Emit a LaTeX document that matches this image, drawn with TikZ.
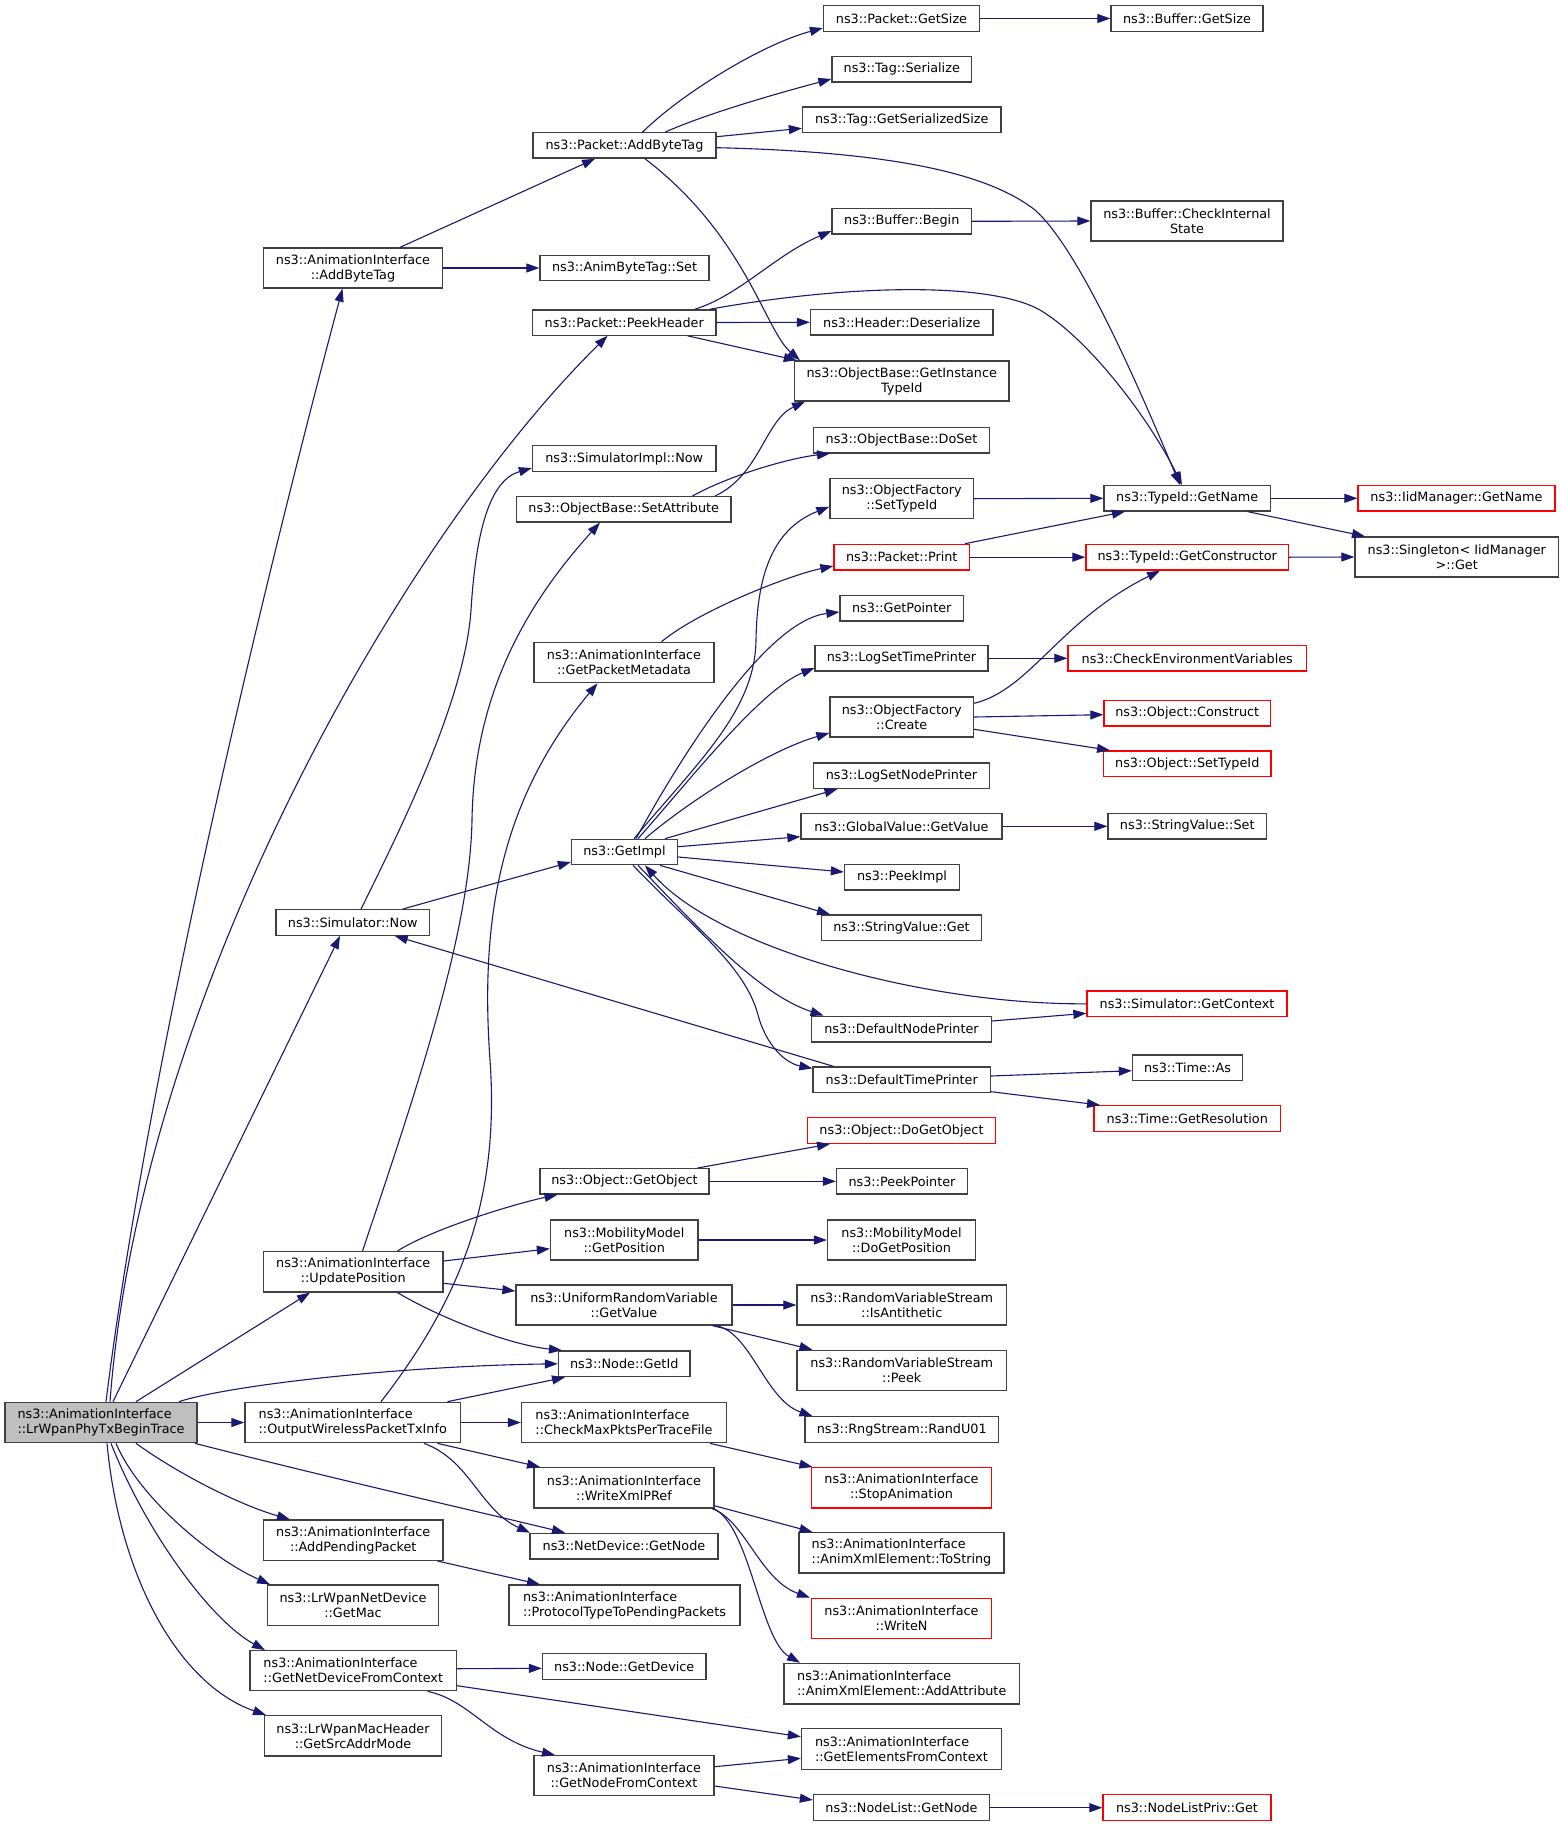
\documentclass[tikz,border=0pt]{standalone}
\usepackage{fontspec}
\setmainfont{DejaVu Sans}
\usetikzlibrary{arrows.meta}
\definecolor{edgecol}{HTML}{191970}
\definecolor{boxcol}{HTML}{404040}
\definecolor{mainfill}{HTML}{BFBFBF}
\definecolor{redcol}{HTML}{FF0000}
\newcommand\nodefont{\fontsize{12.8}{15}\selectfont}
\tikzset{
  box/.style={draw=boxcol, line width=1.3pt, fill=white, inner sep=0pt, font=\nodefont, align=center},
  redbox/.style={box, draw=redcol},
  e/.style={draw=edgecol, line width=1.1pt, -{Triangle[length=13pt,width=9pt]}},
}
\begin{document}
\begin{tikzpicture}[x=1pt,y=-1pt]
\useasboundingbox (0,0) rectangle (1560,1827);
\fill[white] (0,0) rectangle (1560,1827);
% column 1
\node[box, fill=mainfill, align=left, minimum width=192pt, minimum height=40.4pt] (T) at (101,1422.5) {ns3::AnimationInterface\\::LrWpanPhyTxBeginTrace};
% column 2
\node[box, minimum width=179.5pt, minimum height=40pt] (abt) at (353,268) {ns3::AnimationInterface\\::AddByteTag};
\node[box, minimum width=153.5pt, minimum height=25.5pt] (sn) at (352.75,922.5) {ns3::Simulator::Now};
\node[box, minimum width=179.5pt, minimum height=40.3pt] (up) at (353.25,1271.8) {ns3::AnimationInterface\\::UpdatePosition};
\node[box, align=left, minimum width=215.5pt, minimum height=40.4pt] (ow) at (352.75,1422.5) {ns3::AnimationInterface\\::OutputWirelessPacketTxInfo};
\node[box, minimum width=179.5pt, minimum height=40.3pt] (app) at (353.25,1540.2) {ns3::AnimationInterface\\::AddPendingPacket};
\node[box, minimum width=171pt, minimum height=40.3pt] (mac) at (353,1605.2) {ns3::LrWpanNetDevice\\::GetMac};
\node[box, align=left, minimum width=206.5pt, minimum height=40pt] (gnd) at (353.25,1670.7) {ns3::AnimationInterface\\::GetNetDeviceFromContext};
\node[box, minimum width=177pt, minimum height=40.3pt] (src) at (353,1735.8) {ns3::LrWpanMacHeader\\::GetSrcAddrMode};
% column 3
\node[box, minimum width=183pt, minimum height=25.3pt] (pab) at (624.5,145.5) {ns3::Packet::AddByteTag};
\node[box, minimum width=169pt, minimum height=25.6pt] (abs) at (624.5,268) {ns3::AnimByteTag::Set};
\node[box, minimum width=183.5pt, minimum height=25.3pt] (pph) at (624.25,322.5) {ns3::Packet::PeekHeader};
\node[box, minimum width=183.5pt, minimum height=25.6pt] (sin) at (624.25,458.5) {ns3::SimulatorImpl::Now};
\node[box, minimum width=214.5pt, minimum height=25.3pt] (osa) at (623.75,509.3) {ns3::ObjectBase::SetAttribute};
\node[box, minimum width=180pt, minimum height=40.3pt] (gpm) at (624,662.5) {ns3::AnimationInterface\\::GetPacketMetadata};
\node[box, minimum width=106pt, minimum height=25.4pt] (gi) at (624.5,852) {ns3::GetImpl};
\node[box, minimum width=169pt, minimum height=25.3pt] (go) at (624.5,1181.3) {ns3::Object::GetObject};
\node[box, minimum width=147.5pt, minimum height=40pt] (mgp) at (624.25,1240) {ns3::MobilityModel\\::GetPosition};
\node[box, minimum width=216pt, minimum height=40pt] (urv) at (624,1305) {ns3::UniformRandomVariable\\::GetValue};
\node[box, minimum width=131.5pt, minimum height=25.7pt] (gid) at (624.25,1363.8) {ns3::Node::GetId};
\node[box, align=left, minimum width=205pt, minimum height=40.4pt] (cmp) at (624,1422.5) {ns3::AnimationInterface\\::CheckMaxPktsPerTraceFile};
\node[box, minimum width=180pt, minimum height=40.3pt] (wxp) at (624,1487.8) {ns3::AnimationInterface\\::WriteXmlPRef};
\node[box, minimum width=188pt, minimum height=25.7pt] (ndg) at (624,1546.2) {ns3::NetDevice::GetNode};
\node[box, align=left, minimum width=231pt, minimum height=40.3pt] (ptp) at (624.5,1605.2) {ns3::AnimationInterface\\::ProtocolTypeToPendingPackets};
\node[box, minimum width=163.5pt, minimum height=25.6pt] (gdev) at (624.25,1666.5) {ns3::Node::GetDevice};
\node[box, minimum width=180pt, minimum height=40pt] (gnc) at (624,1775.7) {ns3::AnimationInterface\\::GetNodeFromContext};
% column 4
\node[box, minimum width=156pt, minimum height=25.6pt] (pgs) at (901.5,18.5) {ns3::Packet::GetSize};
\node[box, minimum width=139.5pt, minimum height=25.3pt] (tser) at (901.75,69.3) {ns3::Tag::Serialize};
\node[box, minimum width=198.5pt, minimum height=25.7pt] (tgss) at (901.75,120) {ns3::Tag::GetSerializedSize};
\node[box, minimum width=139.5pt, minimum height=25.3pt] (bb) at (901.75,221.3) {ns3::Buffer::Begin};
\node[box, minimum width=182.5pt, minimum height=25.3pt] (hd) at (901.75,322.3) {ns3::Header::Deserialize};
\node[box, minimum width=214.5pt, minimum height=40pt] (giti) at (901.75,381) {ns3::ObjectBase::GetInstance\\TypeId};
\node[box, minimum width=176pt, minimum height=25.7pt] (ds) at (901.5,440) {ns3::ObjectBase::DoSet};
\node[box, minimum width=143.5pt, minimum height=40pt] (ofs) at (901.75,498.7) {ns3::ObjectFactory\\::SetTypeId};
\node[redbox, minimum width=135.5pt, minimum height=25.7pt] (pp) at (901.75,557.2) {ns3::Packet::Print};
\node[box, minimum width=123.5pt, minimum height=25.7pt] (gp) at (901.75,608) {ns3::GetPointer};
\node[box, minimum width=173pt, minimum height=25.3pt] (lstp) at (901.5,658.3) {ns3::LogSetTimePrinter};
\node[box, minimum width=143.5pt, minimum height=40pt] (ofc) at (901.75,717) {ns3::ObjectFactory\\::Create};
\node[box, minimum width=176pt, minimum height=25.3pt] (lsnp) at (901.5,775.7) {ns3::LogSetNodePrinter};
\node[box, minimum width=201pt, minimum height=25.3pt] (ggv) at (901.5,826.3) {ns3::GlobalValue::GetValue};
\node[box, minimum width=115pt, minimum height=25.7pt] (pi) at (902,877) {ns3::PeekImpl};
\node[box, minimum width=160pt, minimum height=25.7pt] (svg) at (901.5,927.8) {ns3::StringValue::Get};
\node[box, minimum width=180pt, minimum height=25.7pt] (dnp) at (901.5,1029) {ns3::DefaultNodePrinter};
\node[box, minimum width=177.5pt, minimum height=25.3pt] (dtp) at (901.75,1079.7) {ns3::DefaultTimePrinter};
\node[redbox, minimum width=188pt, minimum height=25.6pt] (dgo) at (901.5,1130.5) {ns3::Object::DoGetObject};
\node[box, minimum width=131pt, minimum height=25.3pt] (ppt) at (902,1181.3) {ns3::PeekPointer};
\node[box, minimum width=148pt, minimum height=40pt] (dgp) at (901.5,1240) {ns3::MobilityModel\\::DoGetPosition};
\node[box, minimum width=209.5pt, minimum height=40pt] (anti) at (901.75,1305) {ns3::RandomVariableStream\\::IsAntithetic};
\node[box, minimum width=209.5pt, minimum height=40.4pt] (peek) at (901.75,1370.5) {ns3::RandomVariableStream\\::Peek};
\node[box, minimum width=193.5pt, minimum height=25.6pt] (rng) at (901.75,1429.5) {ns3::RngStream::RandU01};
\node[redbox, minimum width=180pt, minimum height=40.3pt] (stop) at (901.5,1487.8) {ns3::AnimationInterface\\::StopAnimation};
\node[box, align=left, minimum width=205pt, minimum height=40.3pt] (tos) at (901.5,1552.8) {ns3::AnimationInterface\\::AnimXmlElement::ToString};
\node[redbox, minimum width=180pt, minimum height=40.4pt] (wn) at (901.5,1618.5) {ns3::AnimationInterface\\::WriteN};
\node[box, align=left, minimum width=235.5pt, minimum height=40.7pt] (aa) at (901.75,1683.7) {ns3::AnimationInterface\\::AnimXmlElement::AddAttribute};
\node[box, align=left, minimum width=200pt, minimum height=40.6pt] (gec) at (901.5,1749) {ns3::AnimationInterface\\::GetElementsFromContext};
\node[box, minimum width=176pt, minimum height=26pt] (nlg) at (901.5,1807.7) {ns3::NodeList::GetNode};
% column 5
\node[box, minimum width=152pt, minimum height=25.6pt] (bgs) at (1187,18.5) {ns3::Buffer::GetSize};
\node[box, minimum width=192pt, minimum height=40pt] (bcis) at (1187,221) {ns3::Buffer::CheckInternal\\State};
\node[box, minimum width=166.5pt, minimum height=25.3pt] (tgn) at (1187.25,498.3) {ns3::TypeId::GetName};
\node[redbox, minimum width=202.5pt, minimum height=25.7pt] (tgc) at (1187.25,557.2) {ns3::TypeId::GetConstructor};
\node[redbox, minimum width=238.5pt, minimum height=25.3pt] (cev) at (1187.25,658.3) {ns3::CheckEnvironmentVariables};
\node[redbox, minimum width=166.5pt, minimum height=25.3pt] (oc) at (1187.25,713.3) {ns3::Object::Construct};
\node[redbox, minimum width=167.5pt, minimum height=25.7pt] (ost) at (1187.25,763.8) {ns3::Object::SetTypeId};
\node[box, minimum width=158.5pt, minimum height=25.3pt] (ssv) at (1187.25,826.3) {ns3::StringValue::Set};
\node[redbox, minimum width=200pt, minimum height=25.7pt] (gctx) at (1187,1003.8) {ns3::Simulator::GetContext};
\node[box, minimum width=110pt, minimum height=25.7pt] (tas) at (1187.5,1067.8) {ns3::Time::As};
\node[redbox, minimum width=186.5pt, minimum height=25.6pt] (tgr) at (1187.25,1118.5) {ns3::Time::GetResolution};
\node[redbox, minimum width=168pt, minimum height=26pt] (nlpg) at (1187,1807.7) {ns3::NodeListPriv::Get};
% column 6
\node[redbox, minimum width=197pt, minimum height=25.3pt] (iid) at (1456.5,498.3) {ns3::IidManager::GetName};
\node[box, minimum width=203.5pt, minimum height=40pt] (sing) at (1456.75,557) {ns3::Singleton< IidManager\\>::Get};
% edges
\draw[e] ([xshift=5pt]T.north) .. controls (150,1050) and (270,560) .. ([xshift=-10.5pt]abt.south);
\draw[e] ([xshift=9pt]T.north) .. controls (140,1000) and (400,540) .. ([xshift=-16.75pt]pph.south);
\draw[e] ([xshift=12pt]T.north) -- ([xshift=-12.75pt]sn.south);
\draw[e] ([xshift=35pt]T.north) -- ([xshift=-43.25pt]up.south);
\draw[e] ([xshift=78pt]T.north) .. controls (230,1385) and (400,1366) .. (gid.west);
\draw[e] (T.east) -- (ow.west);
\draw[e] ([xshift=94pt]T.south) .. controls (330,1478) and (480,1512) .. ([xshift=-59pt]ndg.north);
\draw[e] ([xshift=35pt]T.south) .. controls (180,1475) and (240,1505) .. ([xshift=-63.25pt]app.north);
\draw[e] ([xshift=15pt]T.south) .. controls (140,1500) and (215,1560) .. ([xshift=-83pt]mac.north);
\draw[e] ([xshift=10pt]T.south) .. controls (145,1530) and (210,1620) .. ([xshift=-88.25pt]gnd.north);
\draw[e] ([xshift=6pt]T.south) .. controls (120,1580) and (180,1685) .. ([xshift=-87pt]src.north);
\draw[e] ([xshift=47pt]abt.north) -- ([xshift=-29.5pt]pab.south);
\draw[e] (abt.east) -- (abs.west);
\draw[e] ([xshift=18pt]pab.north) .. controls (680,95) and (760,45) .. ([yshift=-9.5pt]pgs.west);
\draw[e] ([xshift=40.5pt]pab.north) .. controls (710,112) and (790,90) .. ([yshift=-9.7pt]tser.west);
\draw[e] ([yshift=8.8pt]pab.east) -- ([yshift=-8.3pt]tgss.west);
\draw[e] ([yshift=-2.2pt]pab.east) .. controls (900,152) and (990,175) .. (1035,210) .. controls (1080,250) and (1140,390) .. ([xshift=-7.25pt]tgn.north);
\draw[e] ([xshift=20.5pt]pab.south) .. controls (745,235) and (765,330) .. ([xshift=-101.75pt]giti.north);
\draw[e] ([xshift=70.75pt]pph.north) .. controls (740,295) and (775,255) .. ([yshift=-9.7pt]bb.west);
\draw[e] ([xshift=85.75pt]pph.north) .. controls (850,284) and (990,282) .. (1040,310) .. controls (1090,340) and (1150,420) .. ([xshift=-5.25pt]tgn.north);
\draw[e] (pph.east) -- (hd.west);
\draw[e] ([xshift=63.25pt]pph.south) -- ([xshift=-105pt]giti.north);
\draw[e] ([xshift=91.25pt]osa.north) .. controls (760,475) and (765,420) .. ([xshift=-96.75pt]giti.south);
\draw[e] ([xshift=68.75pt]osa.north) .. controls (730,475) and (790,458) .. ([xshift=-71.5pt]ds.south);
\draw[e] ([xshift=37.5pt]gpm.north) .. controls (700,610) and (790,575) .. ([yshift=-8.8pt]pp.west);
\draw[e] ([xshift=8.25pt]sn.north) .. controls (400,830) and (465,700) .. (471,610) .. controls (476,530) and (490,480) .. ([yshift=-9.5pt]sin.west);
\draw[e] ([xshift=49.75pt]sn.north) -- ([yshift=-10pt]gi.west);
\draw[e] ([xshift=9.5pt]gi.north) .. controls (700,760) and (755,710) .. (756,640) .. controls (757,580) and (770,530) .. ([yshift=-8pt]ofs.west);
\draw[e] ([xshift=11.5pt]gi.north) .. controls (690,740) and (770,620) .. ([yshift=-4pt]gp.west);
\draw[e] ([xshift=13.5pt]gi.north) .. controls (690,780) and (760,690) .. ([yshift=-9.7pt]lstp.west);
\draw[e] ([xshift=20.5pt]gi.north) .. controls (690,800) and (770,750) .. ([yshift=-16pt]ofc.west);
\draw[e] ([xshift=40.5pt]gi.north) -- ([xshift=-64pt]lsnp.south);
\draw[e] ([yshift=5.3pt]gi.east) -- ([yshift=-10.4pt]ggv.west);
\draw[e] ([yshift=-5pt]gi.east) -- ([yshift=5pt]pi.west);
\draw[e] ([xshift=35.5pt]gi.south) -- ([xshift=-71.5pt]svg.north);
\draw[e] ([xshift=13.5pt]gi.south) .. controls (700,930) and (760,995) .. ([xshift=-78pt]dnp.north);
\draw[e] ([xshift=8.5pt]gi.south) .. controls (690,925) and (745,965) .. (758,1015) .. controls (766,1045) and (785,1063) .. ([yshift=-2pt]dtp.north west);
\draw[e] (gctx.west) .. controls (930,1005) and (720,950) .. ([xshift=20.5pt]gi.south);
\draw[e] ([xshift=-68pt]dtp.north) -- ([xshift=42pt]sn.south);
\draw[e] (ofs.east) -- (tgn.west);
\draw[e] ([xshift=63.25pt]pp.north) -- ([xshift=-62.25pt]tgn.south);
\draw[e] (pp.east) -- (tgc.west);
\draw[e] (tgn.east) -- (iid.west);
\draw[e] ([xshift=60.25pt]tgn.south) -- ([xshift=-91.75pt]sing.north);
\draw[e] (tgc.east) -- (sing.west);
\draw[e] ([yshift=13.7pt]ofc.east) .. controls (1030,690) and (1060,620) .. ([xshift=-27.25pt]tgc.south);
\draw[e] (lstp.east) -- (cev.west);
\draw[e] (ofc.east) -- ([yshift=-1.4pt]oc.west);
\draw[e] ([yshift=-12.3pt]ofc.east) -- ([xshift=-77.25pt]ost.north);
\draw[e] (ggv.east) -- (ssv.west);
\draw[e] ([yshift=8pt]dnp.east) -- ([yshift=-9.5pt]gctx.west);
\draw[e] ([yshift=3.7pt]dtp.east) -- ([yshift=-2.9pt]tas.west);
\draw[e] ([yshift=-12pt]dtp.east) -- ([xshift=-87.25pt]tgr.north);
\draw[e] ([xshift=44.25pt]up.north) .. controls (430,1230) and (510,1205) .. ([xshift=-67pt]go.south);
\draw[e] ([yshift=10.8pt]up.east) -- ([yshift=-8.7pt]mgp.west);
\draw[e] ([yshift=-11.5pt]up.east) -- ([yshift=14pt]urv.west);
\draw[e] ([xshift=44.25pt]up.south) .. controls (440,1318) and (510,1345) .. ([xshift=-62.25pt]gid.north);
\draw[e] ([xshift=9.25pt]up.north) .. controls (420,1080) and (470,930) .. (472,820) .. controls (474,690) and (530,600) .. ([xshift=-23.75pt]osa.south);
\draw[e] ([xshift=28.25pt]ow.north) .. controls (460,1300) and (500,1200) .. (490,1060) .. controls (480,920) and (500,800) .. ([xshift=-26.5pt]gpm.south);
\draw[e] ([xshift=94.75pt]ow.north) -- ([xshift=-59.25pt]gid.south);
\draw[e] (ow.east) -- (cmp.west);
\draw[e] ([xshift=84.75pt]ow.south) -- ([xshift=-84pt]wxp.north);
\draw[e] ([xshift=71.25pt]ow.south) .. controls (470,1460) and (480,1510) .. ([xshift=-94pt]ndg.north);
\draw[e] ([xshift=86pt]cmp.south) -- ([xshift=-89pt]stop.north);
\draw[e] ([yshift=-18pt]wxp.east) -- ([xshift=-89pt]tos.north);
\draw[e] ([xshift=88pt]wxp.south) .. controls (745,1520) and (760,1580) .. ([xshift=-91.5pt]wn.north);
\draw[e] ([xshift=89.5pt]wxp.south) .. controls (750,1525) and (760,1640) .. ([xshift=-101.75pt]aa.north);
\draw[e] ([xshift=84.25pt]app.south) -- ([xshift=-84.5pt]ptp.north);
\draw[e] ([yshift=2pt]gnd.east) -- ([yshift=-1.8pt]gdev.west);
\draw[e] ([yshift=-15pt]gnd.east) -- ([yshift=12.3pt]gec.west);
\draw[e] ([xshift=74.25pt]gnd.south) .. controls (470,1700) and (490,1740) .. ([xshift=-69pt]gnc.north);
\draw[e] ([yshift=9pt]gnc.east) -- ([yshift=-9.3pt]gec.west);
\draw[e] ([yshift=-10.3pt]gnc.east) -- ([yshift=7.7pt]nlg.west);
\draw[e] (nlg.east) -- (nlpg.west);
\draw[e] (urv.east) -- (anti.west);
\draw[e] ([xshift=88.5pt]urv.south) -- ([xshift=-89.25pt]peek.north);
\draw[e] ([xshift=91pt]urv.south) .. controls (750,1330) and (765,1400) .. ([xshift=-89.25pt]rng.north);
\draw[e] (mgp.east) -- (dgp.west);
\draw[e] ([xshift=73pt]go.north) -- ([xshift=-71.5pt]dgo.south);
\draw[e] (go.east) -- (ppt.west);
\draw[e] (bb.east) -- (bcis.west);
\draw[e] (pgs.east) -- (bgs.west);
\end{tikzpicture}
\end{document}
